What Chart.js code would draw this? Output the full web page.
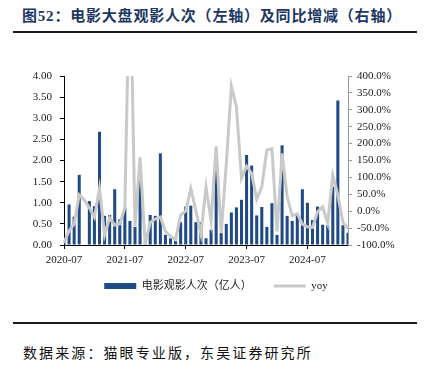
<!DOCTYPE html>
<html><head><meta charset="utf-8">
<script src="https://cdn.jsdelivr.net/npm/chart.js@4"></script>
<style>
html,body{margin:0;padding:0;background:#fff;}
body{width:432px;height:369px;position:relative;overflow:hidden;}
#title{position:absolute;left:22px;top:7px;font:bold 15px 'Liberation Serif','Noto Sans CJK SC';color:#1d3763;letter-spacing:0.8px;white-space:nowrap;line-height:18px;}
.rule{position:absolute;left:13px;width:404px;height:2px;background:#1a1a1a;}
#src{position:absolute;left:23px;top:343px;font:14px 'Noto Sans CJK SC';color:#111;letter-spacing:2.1px;white-space:nowrap;line-height:18px;}
#wrap{position:absolute;left:0;top:0;width:432px;height:369px;}
</style></head><body>
<div id="title">图52：电影大盘观影人次（左轴）及同比增减（右轴）</div>
<div class="rule" style="top:31px"></div>
<div class="rule" style="top:322px"></div>
<div id="src">数据来源：猫眼专业版，东吴证券研究所</div>
<div id="wrap"><canvas id="c" width="432" height="369"></canvas></div>
<script>
const months = [
 '2020-07','2020-08','2020-09','2020-10','2020-11','2020-12',
 '2021-01','2021-02','2021-03','2021-04','2021-05','2021-06','2021-07','2021-08','2021-09','2021-10','2021-11','2021-12',
 '2022-01','2022-02','2022-03','2022-04','2022-05','2022-06','2022-07','2022-08','2022-09','2022-10','2022-11','2022-12',
 '2023-01','2023-02','2023-03','2023-04','2023-05','2023-06','2023-07','2023-08','2023-09','2023-10','2023-11','2023-12',
 '2024-01','2024-02','2024-03','2024-04','2024-05','2024-06','2024-07','2024-08','2024-09','2024-10','2024-11','2024-12',
 '2025-01','2025-02','2025-03'
];
// 电影观影人次（亿人）
const attendance = [
 0.08,0.96,0.67,1.66,null,1.04,
 0.92,2.68,0.69,0.71,1.32,0.61,0.88,0.57,0.43,1.64,0.03,0.71,
 0.69,2.17,0.24,0.16,0.10,0.54,0.91,0.93,0.54,0.54,0.16,0.36,
 1.88,0.29,0.50,0.77,0.89,1.07,2.13,1.88,0.70,0.90,0.43,0.99,
 0.24,2.36,0.69,0.57,0.73,1.32,1.00,0.59,0.91,0.48,0.47,1.38,
 3.42,0.47,0.29
];
// yoy (%)
const yoy = [
 -93,-58,-38,48,33,10,
 -18,68,-70,-20,-41,-38,10,760,-44,159,-97,-33,
 -23,-17,-60,-74,-84,-11,0,67,2,-67,72,-28,
 192,-65,140,370,308,97,133,112,35,72,181,185,
 -60,171,43,-13,-8,-38,-46,-48,-2,13,-36,107,
 48,-33,-52
];
const leftTicks = {min:0, max:4, step:0.5};
const rightTicks = {min:-100, max:400, step:50};
const barLabel = '电影观影人次（亿人）';
const lineLabel = 'yoy';

const BAR = '#1f4a85';
const LINE = '#c9c9c9';
const FONT = "'Liberation Serif','Noto Sans CJK SC'";
Chart.defaults.font.family = FONT;
Chart.defaults.font.size = 11;
Chart.defaults.color = '#1a1a1a';

const legendShift = {
  id:'legendShift',
  afterLayout(chart){ if (chart.legend){ chart.legend.top -= 8.5; chart.legend.bottom -= 8.5; } }
};

new Chart(document.getElementById('c'), {
  data: {
    labels: months,
    datasets: [
      {type:'bar', label:barLabel, data:attendance, backgroundColor:BAR, yAxisID:'y', order:2, barPercentage:0.6, categoryPercentage:1},
      {type:'line', label:lineLabel, data:yoy, borderColor:LINE, borderWidth:3, pointRadius:0, yAxisID:'y1', order:1, tension:0, spanGaps:true}
    ]
  },
  plugins:[legendShift],
  options: {
    responsive:false, animation:false,
    layout:{padding:{top:76, bottom:59, left:0, right:0}},
    plugins:{
      tooltip:{enabled:false},
      legend:{position:'bottom', labels:{
        usePointStyle:true, pointStyleWidth:32, boxHeight:6, padding:22,
        font:{family:FONT, size:11}, color:'#1a1a1a',
        generateLabels: () => [
          {text:barLabel, fillStyle:BAR, strokeStyle:BAR, lineWidth:0, pointStyle:'rect', datasetIndex:0, hidden:false, fontColor:'#1a1a1a'},
          {text:lineLabel, fillStyle:LINE, strokeStyle:LINE, lineWidth:3, pointStyle:'line', datasetIndex:1, hidden:false, fontColor:'#1a1a1a'}
        ]
      }}
    },
    scales:{
      x:{
        offset:false,
        grid:{display:true, drawOnChartArea:false, offset:false, tickLength:4,
          tickColor:(c)=> (months[c.index] && months[c.index].endsWith('-07')) ? '#000' : 'rgba(0,0,0,0)'},
        border:{color:'#000', width:1},
        ticks:{autoSkip:false, maxRotation:0, minRotation:0, padding:5,
          callback:(v,i)=> months[i].endsWith('-07') ? months[i] : ''},
        afterFit:(s)=>{ s.height = 22; }
      },
      y:{
        position:'left', min:leftTicks.min, max:leftTicks.max,
        ticks:{stepSize:leftTicks.step, padding:8, callback:(v)=>Number(v).toFixed(2)},
        grid:{drawOnChartArea:false, tickLength:4, tickColor:'#000'},
        border:{color:'#000', width:1},
        afterFit:(s)=>{ s.width = 64; }
      },
      y1:{
        position:'right', min:rightTicks.min, max:rightTicks.max,
        ticks:{stepSize:rightTicks.step, padding:5, callback:(v)=>Number(v).toFixed(1)+'%'},
        grid:{drawOnChartArea:false, tickLength:4, tickColor:'#999'},
        border:{color:'#999', width:1},
        afterFit:(s)=>{ s.width = 84; }
      }
    }
  }
});
</script>
</body></html>
